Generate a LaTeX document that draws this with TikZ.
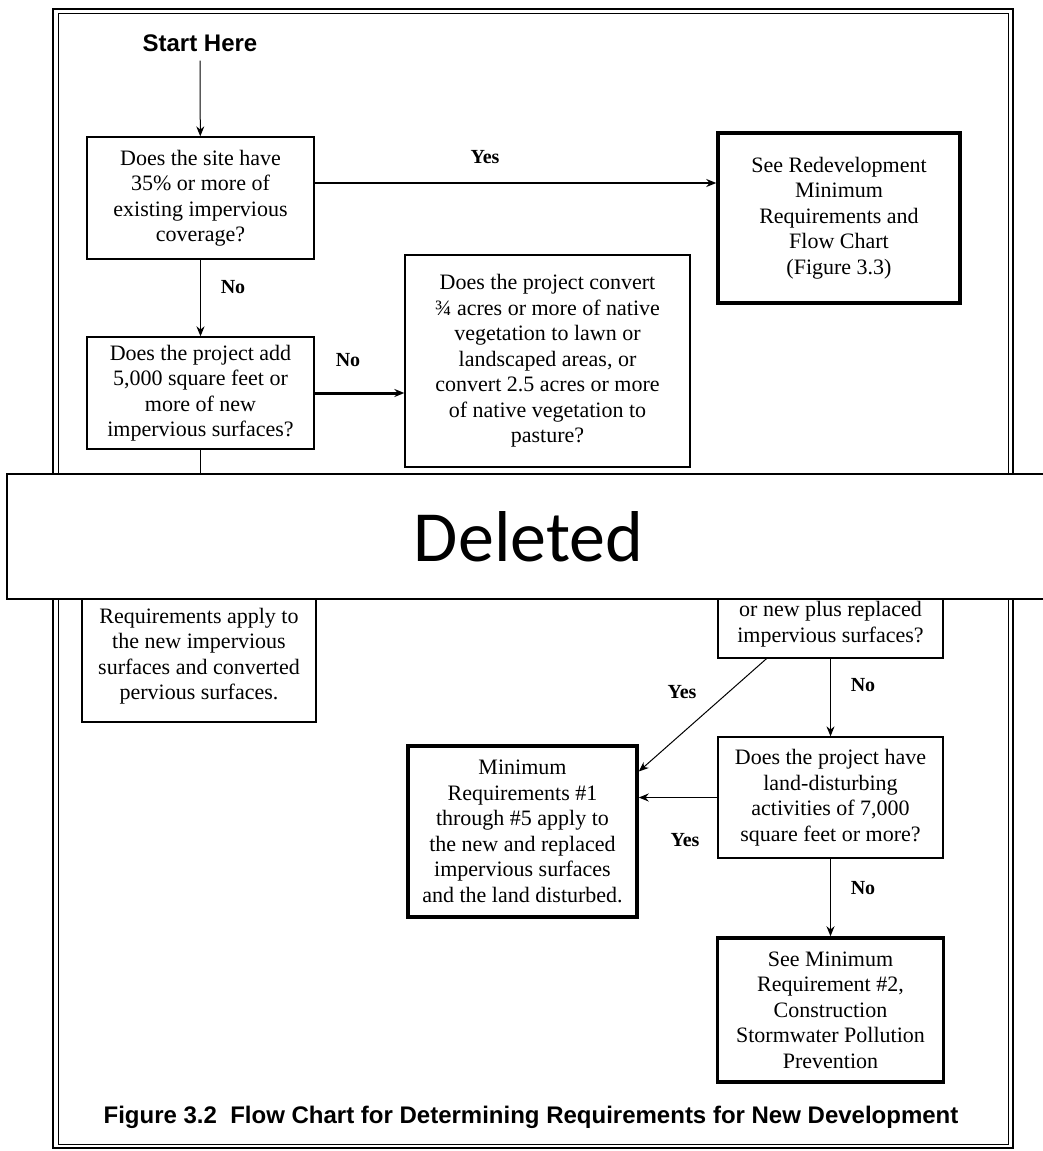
\documentclass[tikz,border=0pt]{standalone}
\usepackage{fontspec}
\setmainfont{Liberation Serif}
\newfontfamily\headfont{Liberation Sans}
\newfontfamily\stampfont{Carlito}
\usetikzlibrary{arrows.meta,calc}

\tikzset{
  qbox/.style={draw, line width=1.3pt, align=center, inner sep=2pt, font=\fontsize{22}{25.5}\selectfont},
  rbox/.style={qbox, line width=3.5pt},
  lbl/.style={inner sep=1pt, font=\fontsize{20}{22}\selectfont\bfseries},
  head/.style={inner sep=1pt, font=\headfont\fontsize{24}{28}\selectfont\bfseries},
  cutband/.style={draw, fill=white, line width=1.5pt, minimum width=1043pt, minimum height=125pt, font=\stampfont\fontsize{72}{80}\selectfont},
  flow/.style={-{Stealth[length=10pt,width=8pt]}, line width=1.2pt},
}

\begin{document}
\begin{tikzpicture}[x=1pt,y=1pt,yscale=-1,xscale=1]
\useasboundingbox (0,0) rectangle (1042,1151);
%Frame
\draw [line width=2pt] (53,9) rectangle (1013,1148);
\draw [line width=0.8pt] (58,13) rectangle (1008,1144);
%Boxes
\draw (200,43) node [head] (start) {Start Here};
\draw (200.5,198) node [qbox, minimum width=227pt, minimum height=122pt] (q1) {Does the site have\\35\% or more of\\existing impervious\\coverage?};
\draw (839,218) node [rbox, minimum width=242pt, minimum height=170pt] (redev) {See Redevelopment\\Minimum\\Requirements and\\Flow Chart\\(Figure 3.3)};
\draw (200.5,393) node [qbox, minimum width=227pt, minimum height=112pt] (q2) {Does the project add\\5,000 square feet or\\more of new\\impervious surfaces?};
\draw (547.5,361) node [qbox, minimum width=285pt, minimum height=212pt] (q3) {Does the project convert\\\textthreequarters\ acres or more of native\\vegetation to lawn or\\landscaped areas, or\\convert 2.5 acres or more\\of native vegetation to\\pasture?};
\draw (199,656) node [qbox, line width=2.5pt, minimum width=234pt, minimum height=132pt] (reqnew) {Requirements apply to\\the new impervious\\surfaces and converted\\pervious surfaces.};
\draw (830.5,624) node [qbox, minimum width=225pt, minimum height=68pt] (orplus) {or new plus replaced\\impervious surfaces?};
\draw (522.5,831.5) node [rbox, minimum width=229pt, minimum height=171pt] (minreq) {Minimum\\Requirements \#1\\through \#5 apply to\\the new and replaced\\impervious surfaces\\and the land disturbed.};
\draw (830.5,797.5) node [qbox, minimum width=225pt, minimum height=121pt] (land) {Does the project have\\land-disturbing\\activities of 7,000\\square feet or more?};
\draw (830.5,1010) node [rbox, minimum width=226pt, minimum height=144pt] (minreqtwo) {See Minimum\\Requirement \#2,\\Construction\\Stormwater Pollution\\Prevention};
%Arrows
\coordinate (yesfrom) at ($(q1.east)+(0,-15)$);
\draw [flow, line width=1pt, shorten <=8pt] (start) -- (q1);
\draw [flow] (yesfrom) -- (yesfrom -| redev.west);
\draw [flow, line width=1.5pt] (q1) -- (q2);
\draw [flow, line width=3pt] (q2.east) -- (q2.east -| q3.west);
\draw [line width=1.2pt] (q2.south) -- ++(0,40);
\draw [flow, line width=1pt] ($(orplus.south)+(-64,0)$) -- ($(minreq.east)+(0,-60)$);
\draw [flow] (orplus.south) -- (land.north);
\draw [flow, line width=1pt] (land.west) -- (land.west -| minreq.east);
\draw [flow, line width=1.5pt] (land.south) -- (minreqtwo.north);
%Cut
\draw (528.5,536.5) node [cutband] (cut) {Deleted};
%Text
\draw (485,157) node [lbl] (yesa) {Yes};
\draw (233,287) node [lbl] (noa) {No};
\draw (348,360) node [lbl] (nob) {No};
\draw (682,692) node [lbl] (yesb) {Yes};
\draw (863,685) node [lbl] (noc) {No};
\draw (685,840) node [lbl] (yesc) {Yes};
\draw (863,888) node [lbl] (nod) {No};
\draw (531,1117) node [head] (caption) {Figure 3.2\ \ Flow Chart for Determining Requirements for New Development};
\end{tikzpicture}
\end{document}
